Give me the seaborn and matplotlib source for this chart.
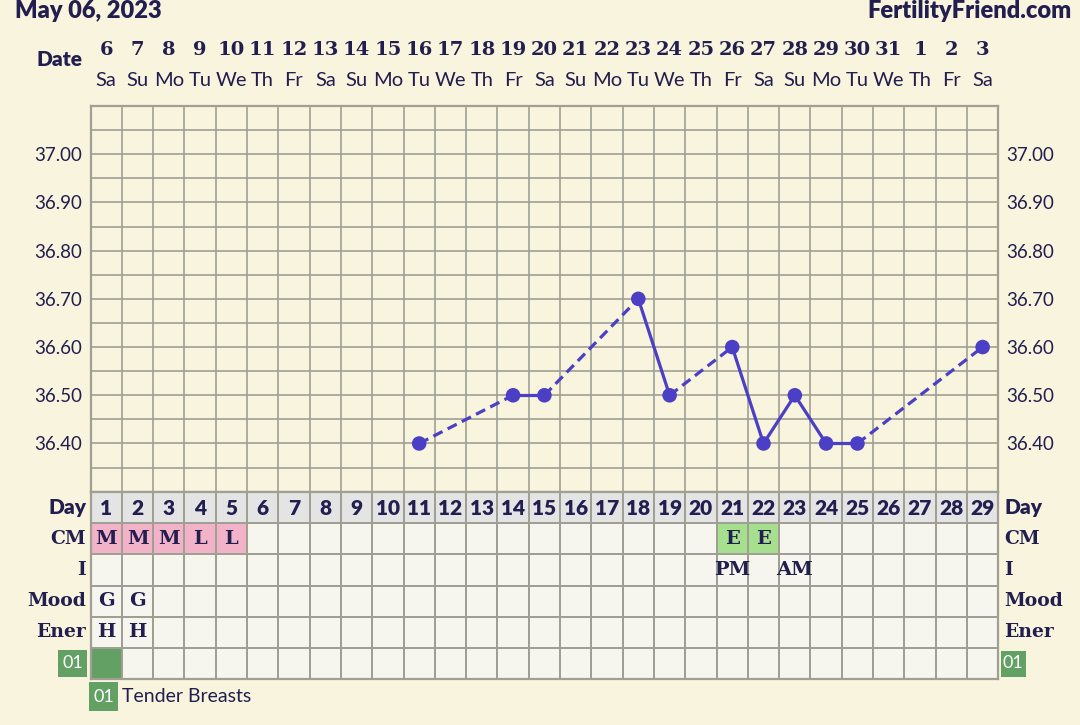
import numpy as np
import pandas as pd
import matplotlib
matplotlib.use("Agg")
import matplotlib.pyplot as plt
from matplotlib.colors import ListedColormap
from matplotlib.patches import Rectangle
from matplotlib.transforms import blended_transform_factory
import seaborn as sns

# calendar of the cycle (cycle day 1 = May 6)
dates = ["6", "7", "8", "9", "10", "11", "12", "13", "14", "15", "16", "17", "18", "19", "20",
         "21", "22", "23", "24", "25", "26", "27", "28", "29", "30", "31", "1", "2", "3"]
weekdays = ["Sa", "Su", "Mo", "Tu", "We", "Th", "Fr", "Sa", "Su", "Mo", "Tu", "We", "Th", "Fr", "Sa",
            "Su", "Mo", "Tu", "We", "Th", "Fr", "Sa", "Su", "Mo", "Tu", "We", "Th", "Fr", "Sa"]
cycle_days = list(range(1, 30))

# temperatures
temp_days = [11, 14, 15, 18, 19, 21, 22, 23, 24, 25, 29]
temps = [36.40, 36.50, 36.50, 36.70, 36.50, 36.60, 36.40, 36.50, 36.40, 36.40, 36.60]
temp_ticks = [36.40, 36.50, 36.60, 36.70, 36.80, 36.90, 37.00]

# table rows
cm_days = [1, 2, 3, 4, 5, 21, 22]
cm_vals = ["M", "M", "M", "L", "L", "E", "E"]
i_days = [21, 23]
i_vals = ["PM", "AM"]
mood_days = [1, 2]
mood_vals = ["G", "G"]
ener_days = [1, 2]
ener_vals = ["H", "H"]
symptom_days = [1]
symptom_code = "01"
symptom_name = "Tender Breasts"
row_labels = ["Day", "CM", "I", "Mood", "Ener"]

# colours
bg = "#f8f4dd"
grid_c = "#9f9f94"
cell_bg = "#f6f6ef"
day_bg = "#e4e4e5"
pink = "#f2b3c9"
lgreen = "#a6e08e"
dgreen = "#62a064"
navy = "#221e4f"
line_c = "#4b3fc6"

sns.set_style("white")
plt.rcParams["font.family"] = ["Lato", "DejaVu Sans"]

W, H = 1080, 725
fig = plt.figure(figsize=(W / 100, H / 100), dpi=100, facecolor=bg)

def fx(x):
    return x / W

def fy(y):
    return 1 - y / H

left, right = 90.5, 998.3
top_t, bot_t, bot_tab = 106, 491.7, 679.3
ax = fig.add_axes([fx(left), fy(bot_t), fx(right - left), (bot_t - top_t) / H])
ax_tab = fig.add_axes([fx(left), fy(bot_tab), fx(right - left), (bot_tab - bot_t) / H])

# ---- temperature chart ----
ax.set_facecolor(bg)
ax.set_xlim(0, 29)
ax.set_ylim(36.30, 37.10)
ax.set_xticks(np.arange(0, 30))
ax.set_yticks(temp_ticks)
ax.set_yticks(np.arange(36.30, 37.101, 0.05), minor=True)
ax.set_yticklabels([f"{t:.2f}" for t in temp_ticks])
ax.tick_params(axis="x", length=0, labelbottom=False)
ax.tick_params(axis="y", which="both", length=0, labelsize=13.5, labelcolor=navy,
               labelleft=True, labelright=True, pad=6)
ax.grid(True, which="both", color=grid_c, lw=1.2)
for s in ax.spines.values():
    s.set_color(grid_c)
    s.set_linewidth(1.6)

pts = pd.DataFrame({"x": [d - 0.5 for d in temp_days], "temp": temps})
rows = []
for i in range(len(temp_days) - 1):
    kind = "solid" if temp_days[i + 1] - temp_days[i] == 1 else "dashed"
    rows.append({"seg": i, "x": pts.x[i], "temp": temps[i], "kind": kind})
    rows.append({"seg": i, "x": pts.x[i + 1], "temp": temps[i + 1], "kind": kind})
segs = pd.DataFrame(rows)
sns.lineplot(data=segs, x="x", y="temp", units="seg", style="kind", estimator=None,
             dashes={"solid": "", "dashed": (3.2, 1.8)}, color=line_c, lw=2.3,
             legend=False, ax=ax, zorder=3)
sns.scatterplot(data=pts, x="x", y="temp", color=line_c, s=110, edgecolor="none",
                ax=ax, zorder=4)
ax.set_xlabel("")
ax.set_ylabel("")

# ---- table ----
codes = np.zeros((6, 29))
codes[0, :] = 1
for d, v in zip(cm_days, cm_vals):
    codes[1, d - 1] = 3 if v == "E" else 2
for d in symptom_days:
    codes[5, d - 1] = 4
sns.heatmap(codes, ax=ax_tab, cmap=ListedColormap([cell_bg, day_bg, pink, lgreen, dgreen]),
            vmin=-0.5, vmax=4.5, cbar=False, linewidths=1.4, linecolor=grid_c,
            xticklabels=False, yticklabels=False)
ax_tab.tick_params(length=0)
for s in ax_tab.spines.values():
    s.set_visible(True)
    s.set_color(grid_c)
    s.set_linewidth(1.6)

serif = dict(family="DejaVu Serif", weight="bold", color=navy, ha="center", va="center")
for d in cycle_days:
    ax_tab.text(d - 0.5, 0.53, str(d), fontsize=15, weight="heavy", color=navy,
                ha="center", va="center")
for r, (days, vals) in enumerate([(cm_days, cm_vals), (i_days, i_vals),
                                  (mood_days, mood_vals), (ener_days, ener_vals)], start=1):
    for d, v in zip(days, vals):
        ax_tab.text(d - 0.5, r + 0.5, v, fontsize=14, **serif)

tab_rows_y = [bot_t + (r + 0.5) * (bot_tab - bot_t) / 6 for r in range(6)]
for r, lab in enumerate(row_labels):
    kw = dict(fontsize=15, weight="heavy", color=navy, va="center")
    if lab != "Day":
        kw = dict(fontsize=13.5, family="DejaVu Serif", weight="bold", color=navy, va="center")
    fig.text(fx(86), fy(tab_rows_y[r]), lab, ha="right", **kw)
    fig.text(fx(1004), fy(tab_rows_y[r]), lab, ha="left", **kw)

# symptom code boxes
for (x0, y0, w, h) in [(58, 650, 29, 27), (1000.5, 650.5, 25.5, 26), (89.3, 682, 29, 29)]:
    fig.patches.append(Rectangle((fx(x0), fy(y0 + h)), w / W, h / H, transform=fig.transFigure,
                                 facecolor=dgreen, edgecolor="none"))
    fig.text(fx(x0 + w / 2), fy(y0 + h / 2), symptom_code, color="white", fontsize=13,
             ha="center", va="center")
fig.text(fx(122), fy(696), symptom_name, color=navy, fontsize=14, ha="left", va="center")

# ---- header ----
trans = blended_transform_factory(ax.transData, fig.transFigure)
for i, (dt, wd) in enumerate(zip(dates, weekdays)):
    ax.text(i + 0.5, fy(50), dt, transform=trans, fontsize=14, family="DejaVu Serif",
            weight="bold", color=navy, ha="center", va="center")
    ax.text(i + 0.5, fy(81), wd, transform=trans, fontsize=14.5, color=navy,
            ha="center", va="center")
fig.text(fx(83), fy(59), "Date", fontsize=15, weight="heavy", color=navy, ha="right", va="center")
fig.text(fx(15), fy(11), "May 06, 2023", fontsize=17, weight="heavy", color=navy,
         ha="left", va="center")
fig.text(fx(1072), fy(11), "FertilityFriend.com", fontsize=17, weight="heavy", color=navy,
         ha="right", va="center")

fig.savefig("out.png", dpi=100, facecolor=bg)
